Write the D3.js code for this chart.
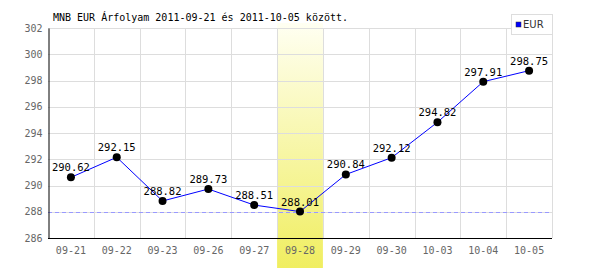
<!DOCTYPE html>
<html><head><meta charset="utf-8">
<script src="https://cdn.jsdelivr.net/npm/d3@7"></script>
<style>body{margin:0;background:#fff}svg{display:block}</style>
</head><body>
<script>
const title = "MNB EUR Árfolyam 2011-09-21 és 2011-10-05 között.";
const categories = ["09-21","09-22","09-23","09-26","09-27","09-28","09-29","09-30","10-03","10-04","10-05"];
const values = [290.62,292.15,288.82,289.73,288.51,288.01,290.84,292.12,294.82,297.91,298.75];
const yTicks = [286,288,290,292,294,296,298,300,302];
const highlightCat = "09-28";
const refValue = 288;
const seriesName = "EUR";

const W=600,H=270;
const m={l:48,r:48,t:28,b:32};
const svg=d3.select("body").append("svg").attr("width",W).attr("height",H);
const font="'DejaVu Sans Mono', monospace";
const x=d3.scaleBand().domain(categories).range([m.l,W-m.r]);
const y=d3.scaleLinear().domain([286,302]).range([H-m.b,m.t]);

const defs=svg.append("defs");
const g=defs.append("linearGradient").attr("id","hl").attr("x1",0).attr("y1",0).attr("x2",0).attr("y2",1);
g.append("stop").attr("offset","0%").attr("stop-color","#fffff2");
g.append("stop").attr("offset","100%").attr("stop-color","#f0ee60");
svg.append("rect").attr("x",x(highlightCat)).attr("width",x.bandwidth()).attr("y",23).attr("height",245).attr("fill","url(#hl)");

// grid
svg.append("g").selectAll("line").data(yTicks).join("line")
  .attr("x1",m.l).attr("x2",W-m.r).attr("y1",d=>Math.round(y(d))+0.5).attr("y2",d=>Math.round(y(d))+0.5)
  .attr("stroke","#dddddd");
svg.append("g").selectAll("line").data(categories.slice(1).concat(["end"])).join("line")
  .attr("x1",(d,i)=>Math.round(m.l+(i+1)*x.step())+0.5).attr("x2",(d,i)=>Math.round(m.l+(i+1)*x.step())+0.5)
  .attr("y1",m.t).attr("y2",H-m.b).attr("stroke","#dddddd");

// ref line
svg.append("line").attr("x1",m.l).attr("x2",W-m.r).attr("y1",Math.round(y(refValue))+0.5).attr("y2",Math.round(y(refValue))+0.5)
  .attr("stroke","#9999ff").attr("stroke-dasharray","4,3");

// axes
const yAxis=d3.axisLeft(y).tickValues(yTicks).tickSize(0).tickPadding(6);
const ya=svg.append("g").attr("transform",`translate(${m.l+0.5},0)`).call(yAxis);
ya.select(".domain").attr("stroke","#000");
ya.selectAll("text").attr("font-family",font).attr("font-size",10).attr("fill","#666");
const xAxis=d3.axisBottom(x).tickSize(0).tickPadding(8);
const xa=svg.append("g").attr("transform",`translate(0,${H-m.b+0.5})`).call(xAxis);
xa.select(".domain").attr("stroke","#000").attr("d",`M${m.l},0H${W-m.r}`);
xa.selectAll("text").attr("font-family",font).attr("font-size",10).attr("fill","#666");

// line
const cx=d=>x(d)+x.bandwidth()/2;
svg.append("path").datum(values).attr("fill","none").attr("stroke","#0000ff").attr("stroke-width",1)
  .attr("d",d3.line().x((d,i)=>cx(categories[i])).y(d=>y(d)));
svg.append("g").selectAll("circle").data(values).join("circle")
  .attr("cx",(d,i)=>cx(categories[i])).attr("cy",d=>y(d)).attr("r",4).attr("fill","#000");
svg.append("g").selectAll("text").data(values).join("text")
  .attr("x",(d,i)=>cx(categories[i])).attr("y",d=>y(d)-6).attr("text-anchor","middle")
  .attr("font-family",font).attr("font-size",10.5).attr("fill","#000").text(d=>d.toFixed(2));

// title
svg.append("text").attr("x",53).attr("y",21).attr("font-family",font).attr("font-size",10).attr("fill","#000").text(title);

// legend
svg.append("rect").attr("x",511.5).attr("y",14.5).attr("width",41).attr("height",20).attr("fill","#fff").attr("stroke","#dddddd");
svg.append("rect").attr("x",516).attr("y",22).attr("width",5).attr("height",5).attr("fill","#0000ff").attr("stroke","#333").attr("stroke-width",0.5);
svg.append("text").attr("x",523).attr("y",28).attr("font-family","'DejaVu Sans', sans-serif").attr("font-size",10).attr("fill","#333").text(seriesName);
</script>
</body></html>
